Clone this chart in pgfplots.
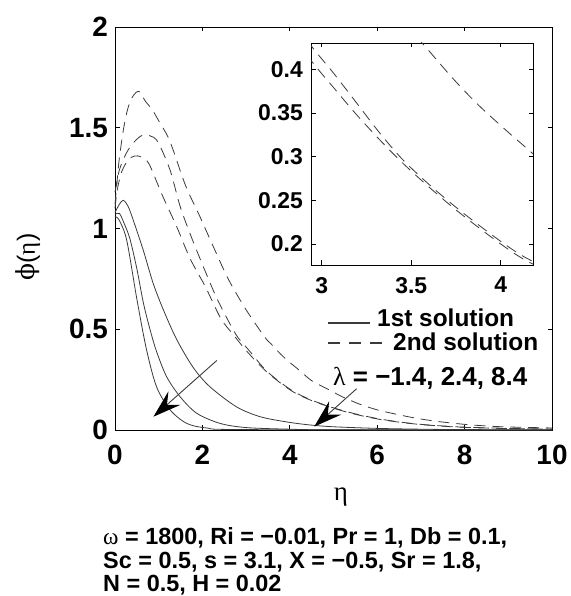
\documentclass[border=0pt]{standalone}
\usepackage{fontspec}
\setmainfont{Liberation Sans}
\newfontfamily\grk{Liberation Serif}
\newfontfamily\grkd{DejaVu Serif}
\usepackage{pgfplots}
\pgfplotsset{compat=1.18}
\usepackage{pgfplotstable}
\usetikzlibrary{arrows.meta}
\definecolor{crv}{HTML}{3A3A3A}

% 2nd solution (dashed)
\pgfplotstableread{
x y
0 1.12
0.05 1.24
0.1 1.35
0.2 1.5
0.3 1.6
0.42 1.66
0.55 1.68
0.7 1.63
0.85 1.59
1.04 1.52
1.2 1.46
1.33 1.39
1.62 1.21
1.92 1.07
2.25 0.91
2.59 0.75
2.99 0.6
3.43 0.46
3.565 0.429
3.73 0.39
3.87 0.36
4.03 0.33
4.17 0.305
4.5 0.245
4.85 0.205
5.2 0.165
5.6 0.128
6.0 0.1
6.4 0.08
6.9 0.058
7.4 0.042
8.0 0.028
8.5 0.02
9.0 0.015
10 0.01
}\dA
\pgfplotstableread{
x y
0 1.18
0.1 1.29
0.25 1.37
0.4 1.42
0.6 1.46
0.8 1.46
0.98 1.43
1.26 1.29
1.49 1.11
1.75 0.956
2.06 0.79
2.36 0.64
2.75 0.48
2.94 0.427
3.06 0.397
3.17 0.368
3.32 0.328
3.45 0.297
3.6 0.268
3.75 0.242
3.92 0.215
4.07 0.193
4.18 0.18
4.5 0.148
5.0 0.11
5.5 0.08
6.0 0.057
6.5 0.04
7.0 0.028
7.5 0.02
8.0 0.014
9.0 0.008
10 0.005
}\dB
\pgfplotstableread{
x y
0 1.1
0.05 1.19
0.15 1.28
0.3 1.34
0.45 1.36
0.6 1.355
0.78 1.32
1.08 1.166
1.41 1.01
1.72 0.85
2.07 0.71
2.42 0.554
2.7 0.475
2.94 0.41
3.07 0.378
3.19 0.349
3.32 0.32
3.45 0.293
3.6 0.265
3.75 0.239
3.92 0.212
4.07 0.19
4.18 0.177
4.5 0.146
5.0 0.108
5.5 0.078
6.0 0.055
6.5 0.039
7.0 0.027
7.5 0.019
8.0 0.013
9.0 0.007
10 0.004
}\dC
% 1st solution (solid)
\pgfplotstableread{
x y
0 1.08
0.1 1.12
0.19 1.14
0.3 1.11
0.42 1.04
0.65 0.89
0.87 0.73
1.1 0.6
1.41 0.45
1.79 0.31
2.17 0.215
2.78 0.115
3.32 0.066
3.93 0.04
4.46 0.025
5.0 0.016
6.0 0.008
7.0 0.004
8.0 0.002
10 0.001
}\sA
\pgfplotstableread{
x y
0 1.07
0.1 1.075
0.2 1.03
0.34 0.95
0.5 0.8
0.65 0.63
0.8 0.5
0.95 0.39
1.18 0.265
1.49 0.165
1.87 0.083
2.4 0.033
3.0 0.012
4.0 0.004
5.0 0.001
10 0
}\sB
\pgfplotstableread{
x y
0 1.06
0.1 1.04
0.27 0.94
0.5 0.65
0.72 0.4
0.95 0.215
1.26 0.1
1.64 0.033
2.1 0.01
3.0 0.002
10 0
}\sC

\begin{document}
\begin{tikzpicture}
\useasboundingbox (0bp,0bp) rectangle (571bp,596bp);
\begin{axis}[
  at={(115bp,166bp)}, anchor=south west,
  scale only axis, width=437bp, height=403bp,
  xmin=0, xmax=10, ymin=0, ymax=2,
  xtick={0,2,4,6,8,10}, ytick={0,0.5,1,1.5,2},
  tick align=inside, major tick length=4.5bp,
  axis line style={line width=0.9bp, black},
  every tick/.style={black, line width=0.7bp},
  /pgf/number format/assume math mode=true,
  tick label style={font=\bfseries\fontsize{28}{28}\selectfont, inner sep=0pt},
  xticklabel style={yshift=-15bp},
  yticklabel style={xshift=-7bp},
  clip=false,
]
\addplot[crv, line width=0.8bp, smooth, no marks] table {\sA};
\addplot[crv, line width=0.8bp, smooth, no marks] table {\sB};
\addplot[crv, line width=0.8bp, smooth, no marks] table {\sC};
\addplot[crv, line width=0.8bp, smooth, no marks, dash pattern=on 11bp off 7bp] table {\dA};
\addplot[crv, line width=0.8bp, smooth, no marks, dash pattern=on 11bp off 7bp] table {\dB};
\addplot[crv, line width=0.8bp, smooth, no marks, dash pattern=on 11bp off 7bp] table {\dC};
\draw[crv, line width=0.9bp, -{Stealth[length=28bp,width=18bp,inset=10bp,black]}] (axis cs:2.33,0.345) -- (axis cs:0.88,0.066);
\draw[crv, line width=0.9bp, -{Stealth[length=28bp,width=18bp,inset=10bp,black]}] (axis cs:5.53,0.205) -- (axis cs:4.56,0.017);
\end{axis}

\begin{axis}[
  at={(311bp,331bp)}, anchor=south west,
  scale only axis, width=222bp, height=222bp,
  xmin=2.94, xmax=4.18, ymin=0.176, ymax=0.43,
  xtick={3,3.5,4}, ytick={0.2,0.25,0.3,0.35,0.4},
  axis background/.style={fill=white},
  tick align=inside, major tick length=4.5bp,
  axis line style={line width=0.9bp, black},
  every tick/.style={black, line width=0.7bp},
  /pgf/number format/assume math mode=true,
  tick label style={font=\bfseries\fontsize{23}{23}\selectfont, inner sep=0pt},
  xticklabel style={yshift=-12bp},
  yticklabel style={xshift=-8bp},
]
\addplot[crv, line width=0.8bp, smooth, no marks, dash pattern=on 11bp off 7bp] table {\dA};
\addplot[crv, line width=0.8bp, smooth, no marks, dash pattern=on 11bp off 7bp] table {\dB};
\addplot[crv, line width=0.8bp, smooth, no marks, dash pattern=on 11bp off 7bp] table {\dC};
\end{axis}

% axis labels
\node[rotate=90, inner sep=0pt, font=\fontsize{25}{25}\selectfont] at (28bp,339bp) {{\grkd ϕ}({\grk η})};
\node[inner sep=0pt, font=\fontsize{27}{27}\selectfont] at (341bp,99bp) {\grk η};

% legend
\draw[crv, line width=1.6bp] (328bp,273bp) -- (370bp,273bp);
\node[anchor=base west, inner sep=0pt, font=\bfseries\fontsize{24.5}{24.5}\selectfont] at (377bp,269bp) {1st solution};
\draw[crv, line width=1.3bp, dash pattern=on 12bp off 9bp] (328bp,253bp) -- (382bp,253bp);
\node[anchor=base west, inner sep=0pt, font=\bfseries\fontsize{24.5}{24.5}\selectfont] at (393bp,245bp) {2nd solution};
\node[anchor=base west, inner sep=0pt, font=\bfseries\fontsize{26}{26}\selectfont] at (333bp,210bp) {{\grk\mdseries λ} = −1.4, 2.4, 8.4};

% parameters
\begin{scope}[every node/.style={anchor=base west, inner sep=0pt, font=\bfseries\fontsize{23.5}{23.5}\selectfont}]
\node at (103bp,51bp) {{\grk\mdseries ω} = 1800, Ri = −0.01, Pr = 1, Db = 0.1,};
\node at (103bp,28bp) {Sc = 0.5, s = 3.1, X = −0.5, Sr = 1.8,};
\node at (103bp,5bp) {N = 0.5, H = 0.02};
\end{scope}
\end{tikzpicture}
\end{document}
